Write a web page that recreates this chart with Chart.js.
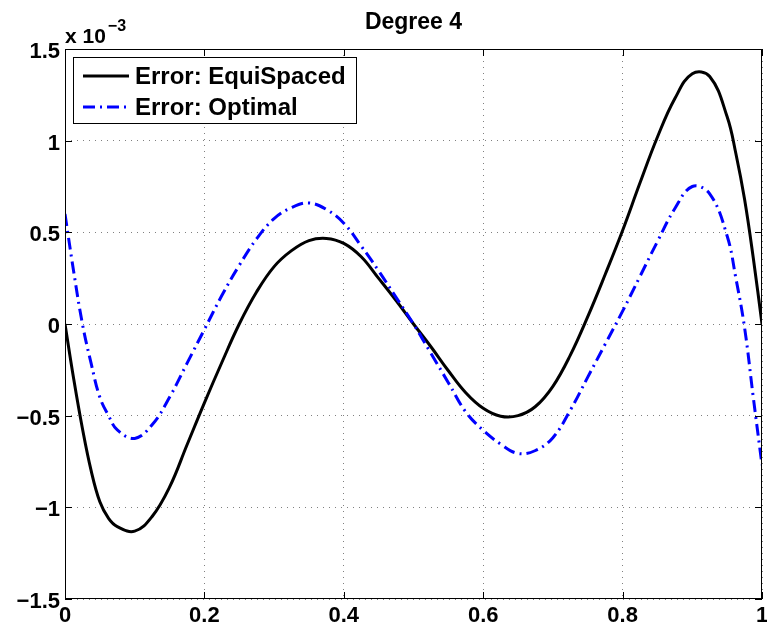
<!DOCTYPE html>
<html>
<head>
<meta charset="utf-8">
<title>Degree 4</title>
<script src="https://cdn.jsdelivr.net/npm/chart.js@4.4.1/dist/chart.umd.min.js"></script>
<style>
    html, body { margin: 0; padding: 0; background: #fff; }
    #wrap { width: 767px; height: 630px; }
</style>
</head>
<body>
<div id="wrap"><canvas id="errChart" width="767" height="630"></canvas></div>
<script>
/* ========================================
   Interpolation error, degree 4 (x 10^-3)
   ======================================== */

// sample positions on [0, 1] (finer near the ends where it is steep)
const xValues = [0, 0.0125, 0.025, 0.0375, 0.05, 0.0625, 0.075, 0.1, 0.125, 0.15, 0.175, 0.2, 0.225,
    0.25, 0.275, 0.3, 0.325, 0.35, 0.375, 0.4, 0.425, 0.45, 0.475, 0.5, 0.525, 0.55, 0.575,
    0.6, 0.625, 0.65, 0.675, 0.7, 0.725, 0.75, 0.775, 0.8, 0.825, 0.85, 0.875, 0.9, 0.925,
    0.95, 0.9625, 0.975, 0.9875, 1];

// error with equispaced nodes
const equiErr = [0, -0.30, -0.57, -0.80, -0.97, -1.06, -1.105, -1.13, -1.05, -0.89, -0.66, -0.43, -0.21,
    0, 0.176, 0.313, 0.40, 0.455, 0.467, 0.44, 0.367, 0.249, 0.128, 0, -0.124, -0.255, -0.375,
    -0.46, -0.503, -0.50, -0.45, -0.34, -0.17, 0.04, 0.27, 0.51, 0.77, 1.02, 1.23, 1.365, 1.35,
    1.13, 0.93, 0.68, 0.36, 0];

// error with optimal nodes
const optErr = [0.60, 0.285, 0, -0.215, -0.40, -0.50, -0.578, -0.624, -0.55, -0.40, -0.215, -0.03, 0.155,
    0.32, 0.465, 0.575, 0.635, 0.66, 0.625, 0.55, 0.425, 0.29, 0.145, 0, -0.16, -0.32, -0.48,
    -0.58, -0.655, -0.706, -0.69, -0.62, -0.47, -0.29, -0.11, 0.07, 0.26, 0.45, 0.63, 0.75, 0.71,
    0.48, 0.25, -0.02, -0.40, -0.77];

const seriesNames = ['Error: EquiSpaced', 'Error: Optimal'];
const xTicks = [0, 0.2, 0.4, 0.6, 0.8, 1];
const yTicks = [-1.5, -1, -0.5, 0, 0.5, 1, 1.5];

const FONT = '"Liberation Sans", Arial, Helvetica, sans-serif';

// format ticks like matlab (long minus, no trailing zeros)
function fmtTick(v) {
    const r = Math.round(v * 1000) / 1000;
    if (r === 0) return '0';
    return (r < 0 ? '\u2212' : '') + String(Math.abs(r));
}

function toPoints(ys) {
    return xValues.map((x, i) => ({ x: x, y: ys[i] }));
}

// box, inward ticks, title, exponent and legend
const matlabFrame = {
    id: 'matlabFrame',
    afterDatasetsDraw(chart) {
        const ctx = chart.ctx;
        const a = chart.chartArea;
        const xs = chart.scales.x;
        const ys = chart.scales.y;
        ctx.save();

        // axes box
        ctx.strokeStyle = '#000';
        ctx.lineWidth = 1;
        ctx.strokeRect(a.left + 0.5, a.top + 0.5, a.right - a.left - 1, a.bottom - a.top - 1);

        // inward tick marks on all sides
        const tl = 7;
        ctx.beginPath();
        xTicks.forEach(v => {
            const px = Math.round(xs.getPixelForValue(v)) + 0.5;
            ctx.moveTo(px, a.bottom); ctx.lineTo(px, a.bottom - tl);
            ctx.moveTo(px, a.top); ctx.lineTo(px, a.top + tl);
        });
        yTicks.forEach(v => {
            const py = Math.round(ys.getPixelForValue(v)) + 0.5;
            ctx.moveTo(a.left, py); ctx.lineTo(a.left + tl, py);
            ctx.moveTo(a.right, py); ctx.lineTo(a.right - tl, py);
        });
        ctx.stroke();

        // title
        ctx.fillStyle = '#000';
        ctx.textAlign = 'center';
        ctx.textBaseline = 'alphabetic';
        ctx.font = 'bold 23px ' + FONT;
        ctx.fillText('Degree 4', (a.left + a.right) / 2, 29);

        // exponent label
        ctx.textAlign = 'left';
        ctx.font = 'bold 21px ' + FONT;
        ctx.fillText('x 10', 65, 43);
        const w = ctx.measureText('x 10').width;
        ctx.font = 'bold 16px ' + FONT;
        ctx.fillText('\u22123', 65 + w + 2, 31);

        // legend
        const lx = 73, ly = 57, lw = 283, lh = 66;
        ctx.fillStyle = '#fff';
        ctx.fillRect(lx, ly, lw, lh);
        ctx.strokeStyle = '#000';
        ctx.lineWidth = 1;
        ctx.strokeRect(lx + 0.5, ly + 0.5, lw, lh);
        ctx.font = 'bold 24px ' + FONT;
        chart.data.datasets.forEach((ds, i) => {
            const cy = ly + 19 + i * 31;
            ctx.save();
            ctx.strokeStyle = ds.borderColor;
            ctx.lineWidth = ds.borderWidth;
            ctx.setLineDash(ds.borderDash || []);
            ctx.beginPath();
            ctx.moveTo(lx + 10, cy);
            ctx.lineTo(lx + 56, cy);
            ctx.stroke();
            ctx.restore();
            ctx.fillStyle = '#000';
            ctx.fillText(seriesNames[i], lx + 62, cy + 8);
        });

        ctx.restore();
    }
};

function loadErrorChart() {
    const ctx = document.getElementById('errChart');
    if (!ctx) return;

    new Chart(ctx, {
        type: 'line',
        data: {
            datasets: [{
                label: seriesNames[0],
                data: toPoints(equiErr),
                borderColor: '#000000',
                borderWidth: 3,
                pointRadius: 0,
                tension: 0.4,
                order: 1
            }, {
                label: seriesNames[1],
                data: toPoints(optErr),
                borderColor: '#0000ff',
                borderWidth: 3,
                borderDash: [12, 5, 2, 5],
                pointRadius: 0,
                tension: 0.4,
                order: 0
            }]
        },
        options: {
            responsive: false,
            animation: false,
            layout: { padding: { top: 49, right: 5, left: 0, bottom: 0 } },
            plugins: {
                legend: { display: false },
                title: { display: false },
                tooltip: { enabled: false }
            },
            scales: {
                x: {
                    type: 'linear',
                    min: 0,
                    max: 1,
                    afterBuildTicks: scale => { scale.ticks = xTicks.map(v => ({ value: v })); },
                    afterFit: scale => { scale.height = 31; scale.paddingLeft = 0; scale.paddingRight = 0; },
                    grid: { color: '#808080', lineWidth: 1, drawTicks: false },
                    border: { display: false, dash: [1, 5] },
                    ticks: {
                        padding: 4,
                        color: '#000',
                        font: { family: FONT, size: 22, weight: 'bold' },
                        maxRotation: 0,
                        callback: v => fmtTick(v)
                    }
                },
                y: {
                    type: 'linear',
                    min: -1.5,
                    max: 1.5,
                    afterBuildTicks: scale => { scale.ticks = yTicks.map(v => ({ value: v })); },
                    afterFit: scale => { scale.width = 65; scale.paddingTop = 0; scale.paddingBottom = 0; },
                    grid: { color: '#808080', lineWidth: 1, drawTicks: false },
                    border: { display: false, dash: [1, 5] },
                    ticks: {
                        padding: 5,
                        labelOffset: 3,
                        color: '#000',
                        font: { family: FONT, size: 22, weight: 'bold' },
                        callback: v => fmtTick(v)
                    }
                }
            }
        },
        plugins: [matlabFrame]
    });
}

document.addEventListener('DOMContentLoaded', loadErrorChart);
</script>
</body>
</html>
